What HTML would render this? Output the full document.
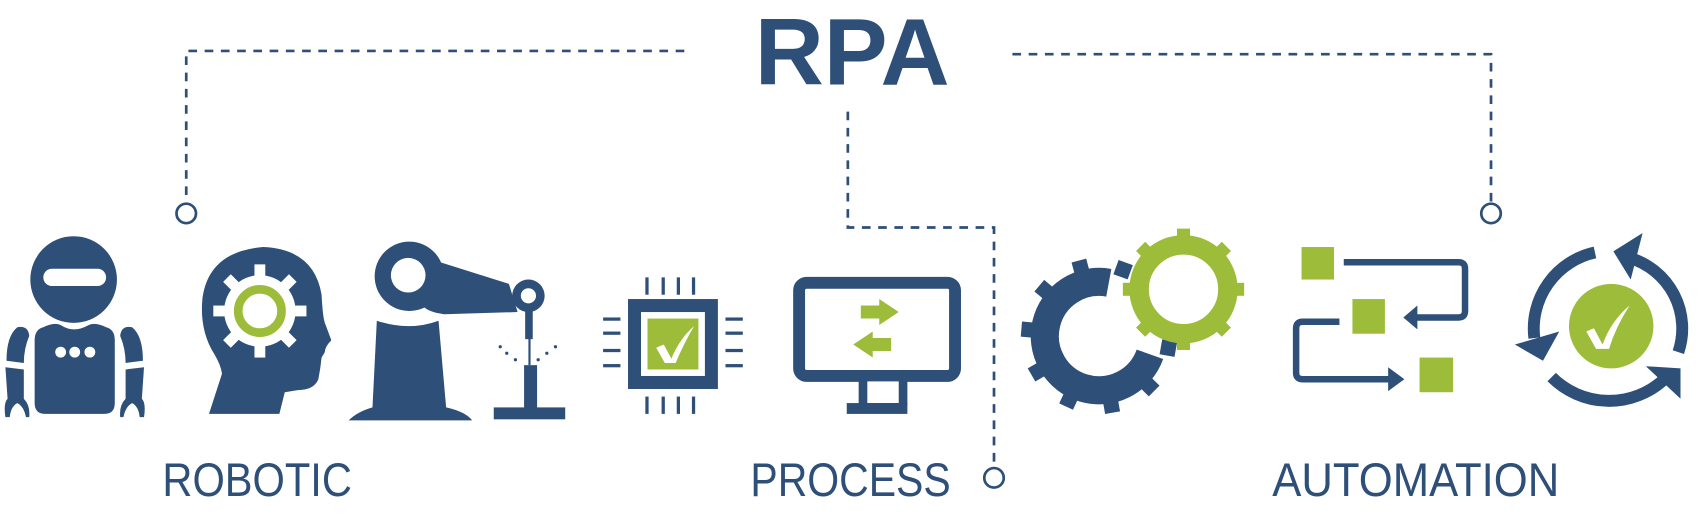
<!DOCTYPE html>
<html><head><meta charset="utf-8"><style>
html,body{margin:0;padding:0;background:#fff;}
svg{display:block}
</style></head><body>
<svg width="1700" height="519" viewBox="0 0 1570 479" preserveAspectRatio="none" xmlns="http://www.w3.org/2000/svg">
<defs>
<g id="tooth"><rect x="-5" y="-8" width="10" height="16"/></g>
</defs>
<g fill="#2d4f78" stroke="none">
<!-- RPA title -->
<text x="787" y="78" font-family="Liberation Sans, sans-serif" font-weight="bold" font-size="87" text-anchor="middle" textLength="180" lengthAdjust="spacingAndGlyphs">RPA</text>
<!-- labels -->
<text x="150" y="458" font-family="Liberation Sans, sans-serif" font-size="44" textLength="175" lengthAdjust="spacingAndGlyphs">ROBOTIC</text>
<text x="693" y="458" font-family="Liberation Sans, sans-serif" font-size="44" textLength="185" lengthAdjust="spacingAndGlyphs">PROCESS</text>
<text x="1175" y="458" font-family="Liberation Sans, sans-serif" font-size="44" textLength="265" lengthAdjust="spacingAndGlyphs">AUTOMATION</text>
</g>
<!-- dashed connectors -->
<g fill="none" stroke="#2d4f78" stroke-width="2.5" stroke-dasharray="8,7">
<path d="M632,47 H172 V188"/>
<path d="M935,50 H1377 V188"/>
<path d="M783,103 V210 H918 V432"/>
</g>
<g fill="#fff" stroke="#2d4f78" stroke-width="2.5">
<circle cx="172" cy="197" r="9"/>
<circle cx="1377" cy="197" r="9"/>
<circle cx="918" cy="441" r="9"/>
</g>

<g fill="#2d4f78">
<!-- robot -->
<circle cx="68" cy="258" r="40"/>
<rect x="40" y="248" width="58" height="16" rx="8" fill="#fff"/>
<path d="M40,302 Q50,297 56,300 Q68,308 82,300 Q88,297 98,302 Q106,304 106,314 V372 Q106,382 96,382 H42 Q32,382 32,372 V314 Q32,304 40,302Z"/>
<circle cx="56" cy="325" r="5" fill="#fff"/><circle cx="69" cy="325" r="5" fill="#fff"/><circle cx="83" cy="325" r="5" fill="#fff"/>
<path d="M6,333 Q6,310 16,302 Q26,300 27,310 Q22,322 22,335Z"/>
<path d="M5,339 L22,341 L22,368 Q28,374 27,385 L24,385 Q22,375 16,372 Q10,375 9,385 L5,385 Q3,372 7,368Z"/>
<path d="M132,333 Q132,310 122,302 Q112,300 111,310 Q116,322 116,335Z"/>
<path d="M133,339 L116,341 L116,368 Q110,374 111,385 L114,385 Q116,375 122,372 Q128,375 129,385 L133,385 Q135,372 131,368Z"/>
<!-- head -->
<path d="M198,327 Q184,305 187,275 Q193,232 243,228 Q290,230 297,272 Q298,292 300,298 L306,314 Q300,320 300,325 L297,330 Q296,340 294,350 Q290,360 275,360 L263,362 L258,382 H193 L205,345 Q204,337 198,327Z"/>
</g>
<g transform="translate(240,287)" fill="#fff">
<circle r="33"/>
<use href="#tooth" transform="rotate(0) translate(0,-35)"/>
<use href="#tooth" transform="rotate(45) translate(0,-35)"/>
<use href="#tooth" transform="rotate(90) translate(0,-35)"/>
<use href="#tooth" transform="rotate(135) translate(0,-35)"/>
<use href="#tooth" transform="rotate(180) translate(0,-35)"/>
<use href="#tooth" transform="rotate(225) translate(0,-35)"/>
<use href="#tooth" transform="rotate(270) translate(0,-35)"/>
<use href="#tooth" transform="rotate(315) translate(0,-35)"/>
<circle r="20" fill="none" stroke="#9dbd3a" stroke-width="8"/>
</g>
<g fill="#2d4f78">
<!-- robot arm -->
<circle cx="378" cy="255" r="32"/>
<circle cx="377" cy="254" r="16" fill="#fff"/>
<path d="M400,240 L470,262 L478,288 L410,290 Q395,288 390,282Z"/>
<circle cx="488" cy="273" r="15"/>
<circle cx="488" cy="273" r="7" fill="#fff"/>
<rect x="485" y="285" width="7" height="28"/>
<rect x="488" y="312" width="2" height="25"/>
<path d="M348,296 Q378,306 405,296 L412,376 Q430,380 436,388 H322 Q330,380 344,376Z"/>
<rect x="484" y="337" width="12" height="42"/>
<rect x="456" y="376" width="66" height="11"/>
<circle cx="462" cy="320" r="1.5"/><circle cx="468" cy="326" r="1.5"/><circle cx="476" cy="332" r="1.5"/>
<circle cx="513" cy="320" r="1.5"/><circle cx="505" cy="326" r="1.5"/><circle cx="497" cy="332" r="1.5"/>
<!-- chip -->
<rect x="580" y="276" width="83" height="83"/>
<rect x="592" y="288" width="59" height="59" fill="#fff"/>
<rect x="598" y="294" width="47" height="47" fill="#9dbd3a"/>
<path d="M606,321 L613,318 L620,331 Q628,312 641,301 Q631,318 624,335 L614,335Z" fill="#fff"/>
<g>
<rect x="596" y="256" width="3" height="16"/><rect x="611" y="256" width="3" height="16"/><rect x="625" y="256" width="3" height="16"/><rect x="639" y="256" width="3" height="16"/>
<rect x="596" y="366" width="3" height="16"/><rect x="611" y="366" width="3" height="16"/><rect x="625" y="366" width="3" height="16"/><rect x="639" y="366" width="3" height="16"/>
<rect x="557" y="293" width="16" height="3"/><rect x="557" y="306" width="16" height="3"/><rect x="557" y="322" width="16" height="3"/><rect x="557" y="336" width="16" height="3"/>
<rect x="670" y="293" width="16" height="3"/><rect x="670" y="306" width="16" height="3"/><rect x="670" y="322" width="16" height="3"/><rect x="670" y="336" width="16" height="3"/>
</g>
<!-- monitor -->
<rect x="738" y="261" width="144" height="86" rx="7" fill="none" stroke="#2d4f78" stroke-width="11"/>
<rect x="793" y="352" width="45" height="22"/>
<rect x="801" y="352" width="29" height="20" fill="#fff"/>
<rect x="782" y="372" width="56" height="10"/>
</g>
<g fill="#9dbd3a">
<path d="M795,282 H812 V276 L830,288 L812,300 V294 H795Z"/>
<path d="M823,312 H806 V306 L788,318 L806,330 V324 H823Z"/>
</g>
<!-- gears -->
<g fill="#2d4f78">
<path d="M1062,327 A50,50 0 1 1 1024,261" fill="none" stroke="#2d4f78" stroke-width="26"/>
<g transform="translate(1015,310)">
<rect x="-7" y="-72" width="14" height="14" transform="rotate(20)"/>
<rect x="-7" y="-72" width="14" height="14" transform="rotate(-15)"/>
<rect x="-7" y="-72" width="14" height="14" transform="rotate(-50)"/>
<rect x="-7" y="-72" width="14" height="14" transform="rotate(-85)"/>
<rect x="-7" y="-72" width="14" height="14" transform="rotate(-120)"/>
<rect x="-7" y="-72" width="14" height="14" transform="rotate(-155)"/>
<rect x="-7" y="-72" width="14" height="14" transform="rotate(170)"/>
<rect x="-7" y="-72" width="14" height="14" transform="rotate(135)"/>
<rect x="-7" y="-72" width="14" height="14" transform="rotate(100)"/>
</g>
</g>
<g transform="translate(1093,267)" fill="#9dbd3a">
<circle r="41" fill="none" stroke="#9dbd3a" stroke-width="18"/>
<rect x="-6" y="-56" width="12" height="12" transform="rotate(0)"/>
<rect x="-6" y="-56" width="12" height="12" transform="rotate(45)"/>
<rect x="-6" y="-56" width="12" height="12" transform="rotate(90)"/>
<rect x="-6" y="-56" width="12" height="12" transform="rotate(135)"/>
<rect x="-6" y="-56" width="12" height="12" transform="rotate(180)"/>
<rect x="-6" y="-56" width="12" height="12" transform="rotate(225)"/>
<rect x="-6" y="-56" width="12" height="12" transform="rotate(270)"/>
<rect x="-6" y="-56" width="12" height="12" transform="rotate(315)"/>
</g>
<!-- flow -->
<g fill="#9dbd3a">
<rect x="1202" y="228" width="30" height="30"/>
<rect x="1249" y="276" width="30" height="32"/>
<rect x="1311" y="330" width="31" height="32"/>
</g>
<g fill="none" stroke="#2d4f78" stroke-width="6">
<path d="M1241,242 H1347 Q1353,242 1353,248 V287 Q1353,293 1347,293 H1305"/>
<path d="M1237,297 H1203 Q1197,297 1197,303 V344 Q1197,350 1203,350 H1284"/>
</g>
<g fill="#2d4f78">
<path d="M1296,293 L1309,282 L1309,304Z"/>
<path d="M1297,350 L1282,339 L1282,361Z"/>
<!-- cycle -->
<circle cx="1488" cy="301" r="39" fill="#9dbd3a"/>
<path d="M1465,306 L1472,303 L1480,318 Q1488,296 1505,282 Q1492,302 1486,322 L1474,322Z" fill="#fff"/>
<path d="M1473,233 A72,72 0 0 0 1417,312" fill="none" stroke="#2d4f78" stroke-width="11"/>
<path d="M1399,318 L1425,333 L1440,306Z"/>
<path d="M1505,238 A68,68 0 0 1 1550,325" fill="none" stroke="#2d4f78" stroke-width="11"/>
<path d="M1490,232 L1517,215 L1506,258Z"/>
<path d="M1433,348 A75,75 0 0 0 1537,350" fill="none" stroke="#2d4f78" stroke-width="11"/>
<path d="M1520,338 L1552,340 L1552,368Z"/>
</g>
</svg>
</body></html>
